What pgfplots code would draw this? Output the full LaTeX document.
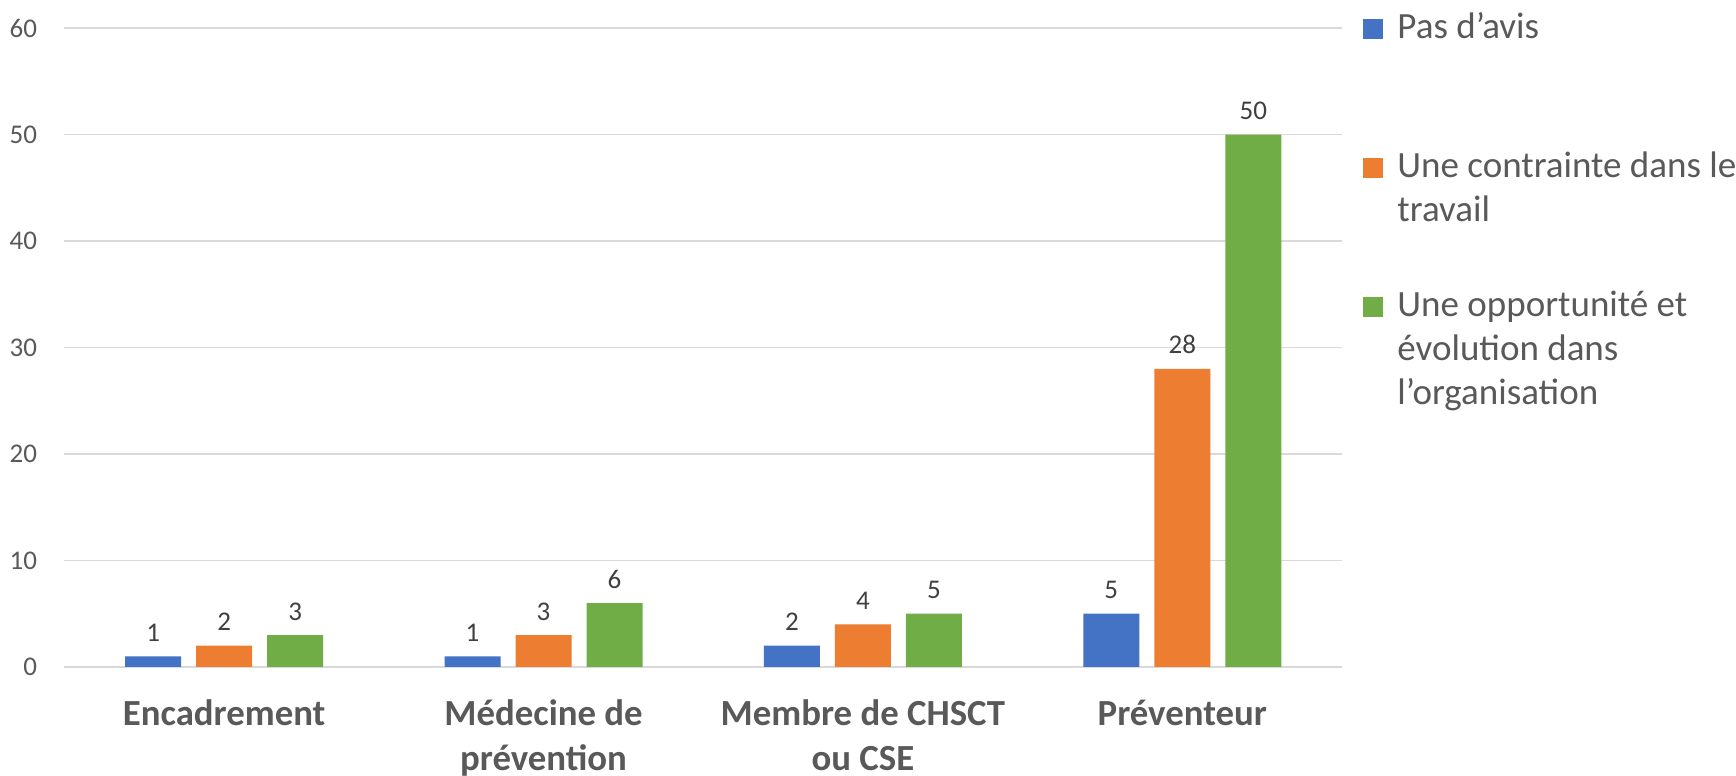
\documentclass[border=0pt]{standalone}
\usepackage{fontspec}
\setmainfont{Carlito}
\usepackage{pgfplots}
\pgfplotsset{compat=1.18}
\definecolor{cblue}{HTML}{4472C4}
\definecolor{corange}{HTML}{ED7D31}
\definecolor{cgreen}{HTML}{70AD47}
\definecolor{cgrid}{HTML}{D9D9D9}
\definecolor{ctext}{HTML}{595959}
\definecolor{clabel}{HTML}{404040}
\begin{document}
\begin{tikzpicture}
\begin{axis}[
  at={(32.25pt,54.5pt)}, anchor=south west,
  width=638.75pt, height=319.5pt, scale only axis,
  ymin=0, ymax=60, ytick={0,10,...,60},
  xmin=-0.5, xmax=3.5, xtick={0,1,2,3},
  xticklabels={{\rule{0pt}{16pt}Encadrement},{\rule{0pt}{16pt}Médecine de\\prévention},{\rule{0pt}{16pt}Membre de CHSCT\\ou CSE},{\rule{0pt}{16pt}Préventeur}},
  xticklabel style={anchor=north, inner sep=0pt, yshift=-9pt, align=center,
    font=\fontsize{18.4}{22.3}\selectfont\bfseries, text=ctext},
  yticklabel style={anchor=east, inner sep=0pt, xshift=-13.5pt,
    font=\fontsize{13.5}{16}\selectfont, text=ctext},
  /pgf/number format/assume math mode=true,
  ybar=7.5pt, bar width=28pt,
  ymajorgrids, grid style={draw=cgrid, line width=0.75pt},
  axis line style={draw=none}, tick style={draw=none},
  nodes near coords,
  every node near coord/.append style={anchor=base, yshift=7.5pt, inner sep=0pt,
    font=\fontsize{13.5}{16}\selectfont, text=clabel},
  legend image code/.code={\fill[#1] (0pt,0pt) rectangle (10pt,10pt);},
  legend style={draw=none, fill=none, inner sep=0pt, outer sep=0pt,
    row sep=48.6pt, column sep=5pt, anchor=north west, at={(1.0168,1.030)},
    font=\fontsize{18.5}{22}\selectfont, text=ctext,
    cells={anchor=base west, inner sep=0pt}},
]
\addplot[fill=cblue, draw=none] coordinates {(0,1) (1,1) (2,2) (3,5)};
\addlegendentry{Pas d'avis}
\addplot[fill=corange, draw=none] coordinates {(0,2) (1,3) (2,4) (3,28)};
\addlegendentry{\begin{tabular}[t]{@{}l@{}}Une contrainte dans le\\travail\end{tabular}}
\addplot[fill=cgreen, draw=none] coordinates {(0,3) (1,6) (2,5) (3,50)};
\addlegendentry{\begin{tabular}[t]{@{}l@{}}Une opportunité et\\évolution dans\\l'organisation\end{tabular}}
\end{axis}
\pgfresetboundingbox
\useasboundingbox (0,0) rectangle (868pt,388pt);
\end{tikzpicture}
\end{document}
